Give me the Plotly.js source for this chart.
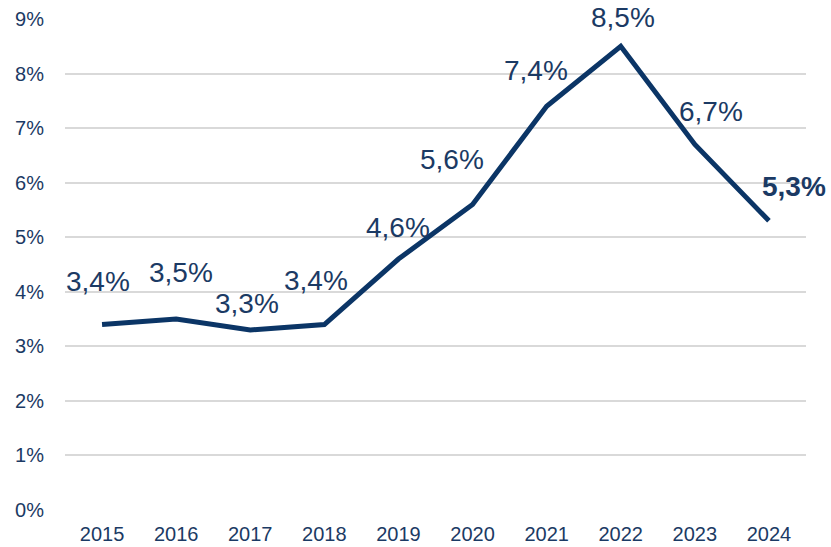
<!DOCTYPE html>
<html>
<head>
<meta charset="utf-8">
<script src="https://cdn.plot.ly/plotly-3.0.1.min.js"></script>
<style>html,body{margin:0;padding:0;background:#fff;}#chart{width:831px;height:547px;}</style>
</head>
<body>
<div id="chart"></div>
<script>
const years = ['2015','2016','2017','2018','2019','2020','2021','2022','2023','2024'];
const rates = [3.4, 3.5, 3.3, 3.4, 4.6, 5.6, 7.4, 8.5, 6.7, 5.3];
const rateLabels = ['3,4%','3,5%','3,3%','3,4%','4,6%','5,6%','7,4%','8,5%','6,7%','5,3%'];
const yTickVals = [0,1,2,3,4,5,6,7,8,9];
const yTickText = ['0%','1%','2%','3%','4%','5%','6%','7%','8%','9%'];

// label placement offsets (pixels) – style only
const labelDx = [-4, 5, -3, -8, 0, -21, -11, 2, 16, 25];
const labelDy = [43, 47, 26, 44, 32, 45, 36, 29, 33, 34];
const labelBold = [false,false,false,false,false,false,false,false,false,true];

const navy = '#0b3566';
const textColor = '#1b3a64';
const fontFam = '"Liberation Sans", Arial, sans-serif';

const annotations = years.map((yr, i) => ({
  x: years.indexOf(yr), y: rates[i], xref: 'x', yref: 'y',
  text: labelBold[i] ? '<b>' + rateLabels[i] + '</b>' : rateLabels[i],
  showarrow: false, xanchor: 'center', yanchor: 'middle',
  xshift: labelDx[i], yshift: labelDy[i],
  font: {family: fontFam, size: 28, color: textColor}
}));

const trace = {
  x: years, y: rates, type: 'scatter', mode: 'lines',
  line: {color: navy, width: 5},
  hoverinfo: 'skip'
};

const layout = {
  width: 831, height: 547,
  margin: {l: 65, r: 25, t: 19, b: 37, pad: 0},
  paper_bgcolor: '#fff', plot_bgcolor: '#fff',
  showlegend: false,
  font: {family: fontFam, color: textColor, size: 20},
  xaxis: {
    type: 'category', range: [-0.5, years.length - 0.5],
    showgrid: false, zeroline: false, showline: false,
    ticks: 'outside', ticklen: 6, tickcolor: 'rgba(0,0,0,0)',
    tickfont: {family: fontFam, size: 20, color: textColor},
    fixedrange: true
  },
  yaxis: {
    range: [0, 9], tickvals: yTickVals, ticktext: yTickText,
    showgrid: true, gridcolor: '#d9d9d9', gridwidth: 2,
    zeroline: false, showline: false,
    ticks: 'outside', ticklen: 16, tickcolor: 'rgba(0,0,0,0)',
    tickfont: {family: fontFam, size: 20, color: textColor},
    fixedrange: true
  },
  annotations: annotations
};

Plotly.newPlot('chart', [trace], layout, {displayModeBar: false, staticPlot: true});
</script>
</body>
</html>
